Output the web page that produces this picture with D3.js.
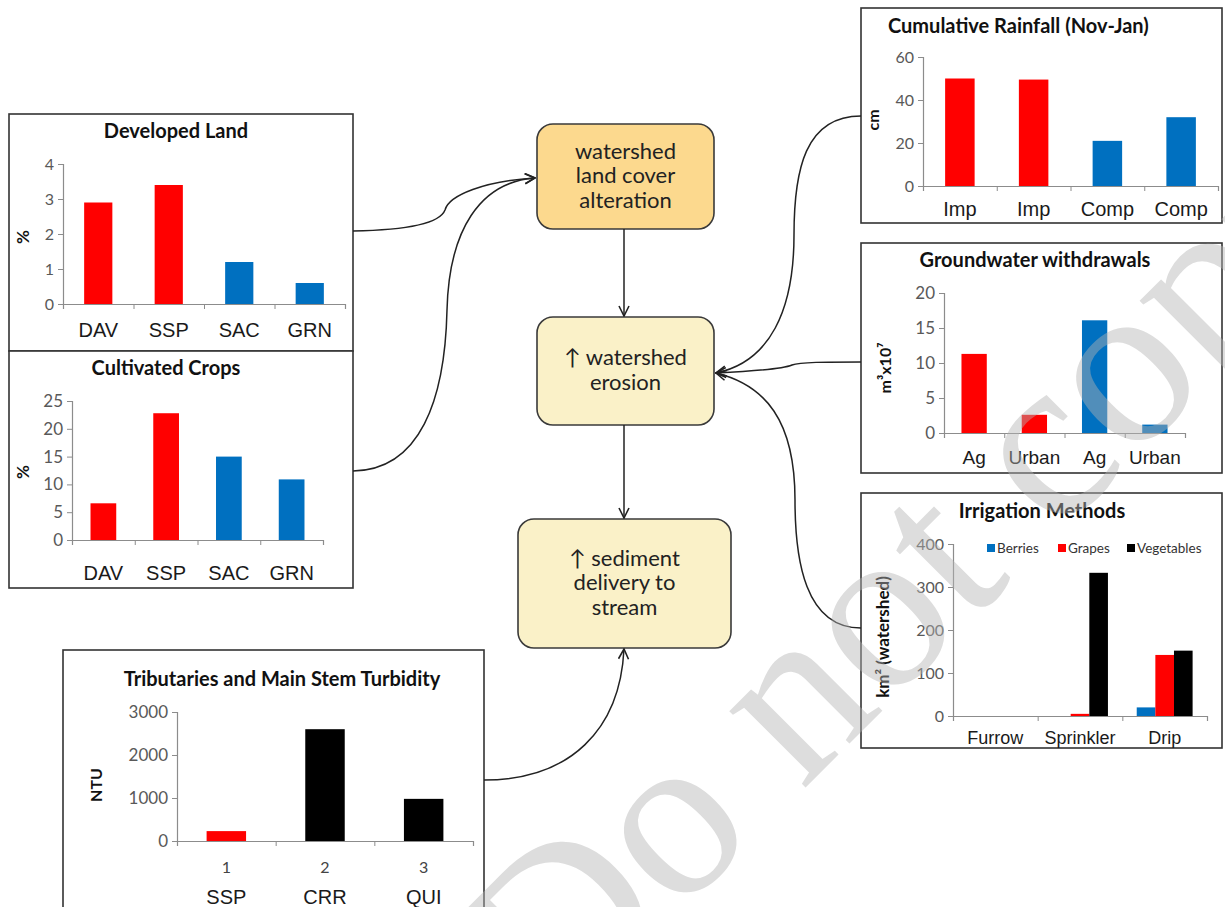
<!DOCTYPE html>
<html><head><meta charset="utf-8">
<script src="https://cdn.jsdelivr.net/npm/d3@7"></script>
<style>
body{margin:0;background:#fff;}
svg{display:block;}
</style></head>
<body>
<svg id="c" width="1225" height="907"></svg>
<script>
// ---------- DATA ----------
const devCats = ["DAV","SSP","SAC","GRN"];
const devVals = [2.9, 3.4, 1.2, 0.6];
const devTicks = [0,1,2,3,4];

const cropCats = ["DAV","SSP","SAC","GRN"];
const cropVals = [6.6, 22.8, 15.0, 10.9];
const cropTicks = [0,5,10,15,20,25];

const rainCats = ["Imp","Imp","Comp","Comp"];
const rainVals = [50, 49.5, 21, 32];
const rainTicks = [0,20,40,60];

const gwCats = ["Ag","Urban","Ag","Urban"];
const gwVals = [11.3, 2.6, 16.1, 1.2];
const gwTicks = [0,5,10,15,20];

const irrCats = ["Furrow","Sprinkler","Drip"];
const irrSeries = ["Berries","Grapes","Vegetables"];
const irrBerries = [0, 0, 20];
const irrGrapes = [0, 5, 142];
const irrVegetables = [0, 333, 152];
const irrTicks = [0,100,200,300,400];

const turbCats = ["1","2","3"];
const turbSites = ["SSP","CRR","QUI"];
const turbVals = [230, 2600, 980];
const turbTicks = [0,1000,2000,3000];

const region4 = ["imp","imp","comp","comp"];   // impaired (red) vs comparison (blue)
const turbGroup = ["imp","main","main"];

const boxTexts = [
  ["watershed","land cover","alteration"],
  ["\u2191 watershed","erosion"],
  ["\u2191 sediment","delivery to","stream"]
];

// ---------- STYLE ----------
const RED="#ff0000", BLUE="#0070c0", BLACK="#000000";
const groupColor = {imp:RED, comp:BLUE, main:BLACK};
const seriesColor = [BLUE, RED, BLACK];
const AXIS="#8c8c8c", TICKTXT="#595959";
const svg = d3.select("#c");
svg.append("rect").attr("width",1225).attr("height",907).attr("fill","#fff");

const defs = svg.append("defs");
defs.append("marker").attr("id","arr").attr("viewBox","0 0 12 12")
  .attr("refX",11).attr("refY",6).attr("markerWidth",12).attr("markerHeight",12)
  .attr("markerUnits","userSpaceOnUse").attr("orient","auto")
  .append("path").attr("d","M1,1 L11,6 L1,11").attr("fill","none")
  .attr("stroke","#222").attr("stroke-width",1.6);

function panel(o){
  const g = svg.append("g");
  g.append("rect").attr("x",o.box[0]).attr("y",o.box[1]).attr("width",o.box[2]).attr("height",o.box[3])
    .attr("fill","#fff").attr("stroke","#333").attr("stroke-width",1.6);
  g.append("text").attr("x",o.tx).attr("y",o.ty).attr("text-anchor",o.tanchor||"middle")
    .attr("dominant-baseline","central").attr("font-family","Lato, 'Open Sans', sans-serif")
    .attr("font-weight","bold").attr("font-size",o.tsize||20).attr("fill","#111").text(o.title);
  const y = d3.scaleLinear().domain([0,o.max]).range([o.y0,o.y1]);
  const n = o.cats.length;
  const xb = d3.scaleBand().domain(d3.range(n)).range([o.x0,o.x1]).paddingInner(o.pad).paddingOuter(o.pad/2);
  const xl = d3.scaleLinear().domain([0,n]).range([o.x0,o.x1]);
  // y axis
  const ya = g.append("g").attr("transform",`translate(${o.x0},0)`)
    .call(d3.axisLeft(y).tickValues(o.ticks).tickFormat(d3.format("d")).tickSize(5).tickPadding(4));
  ya.select(".domain").attr("stroke",AXIS).attr("stroke-width",1.2);
  ya.selectAll(".tick line").attr("stroke",AXIS);
  ya.selectAll(".tick text").attr("font-family","Lato, sans-serif").attr("font-size",o.ysize||16).attr("fill",TICKTXT);
  // x axis (category boundaries)
  const xa = g.append("g").attr("transform",`translate(0,${o.y0})`)
    .call(d3.axisBottom(xl).tickValues(d3.range(n+1)).tickSize(5).tickFormat(""));
  xa.select(".domain").attr("stroke",AXIS).attr("stroke-width",1.2);
  xa.selectAll(".tick line").attr("stroke",AXIS);
  // bars
  if(o.series){
    const xs = d3.scaleBand().domain(d3.range(o.series.length)).range([0,xb.bandwidth()]);
    o.series.forEach((vals,si)=>{
      g.selectAll(null).data(vals).enter().append("rect")
        .attr("x",(d,i)=>xb(i)+xs(si)).attr("width",xs.bandwidth())
        .attr("y",d=>y(d)).attr("height",d=>y(0)-y(d)).attr("fill",seriesColor[si]);
    });
  } else {
    g.selectAll(null).data(o.vals).enter().append("rect")
      .attr("x",(d,i)=>xb(i)).attr("width",xb.bandwidth())
      .attr("y",d=>y(d)).attr("height",d=>y(0)-y(d)).attr("fill",(d,i)=>groupColor[o.groups[i]]);
  }
  // category labels
  const xc = g.append("g").attr("transform",`translate(0,${o.catY})`)
    .call(d3.axisBottom(xb).tickSize(0).tickFormat(i=>o.cats[i]));
  xc.select(".domain").remove();
  xc.selectAll(".tick text").attr("font-family",o.catFont||"'Liberation Sans', Arial, sans-serif")
    .attr("font-size",o.catSize||20).attr("fill",o.catColor||"#1a1a1a").attr("dy","0");
  if(o.cats2){
    const xc2 = g.append("g").attr("transform",`translate(0,${o.catY2})`)
      .call(d3.axisBottom(xb).tickSize(0).tickFormat(i=>o.cats2[i]));
    xc2.select(".domain").remove();
    xc2.selectAll(".tick text").attr("font-family","'Liberation Sans', Arial, sans-serif")
      .attr("font-size",20).attr("fill","#1a1a1a").attr("dy","0");
  }
  // y label
  g.append("text").attr("transform",`translate(${o.ylx},${o.yly}) rotate(-90)`)
    .attr("text-anchor","middle").attr("dominant-baseline","central")
    .attr("font-family","Lato, sans-serif").attr("font-weight","bold").attr("font-size",o.ylsize||16)
    .attr("fill","#111").text(o.ylabel);
  return {g,xb,y};
}

// Developed Land
panel({box:[9,114,344,237], title:"Developed Land", tx:176, ty:130,
  x0:63, x1:345, y0:304, y1:164, max:4, ticks:devTicks, cats:devCats, vals:devVals, groups:region4,
  pad:0.6, catY:334, ysize:16, ylabel:"%", ylx:22, yly:237, ylsize:17});
// Cultivated Crops
panel({box:[9,351,344,237], title:"Cultivated Crops", tx:166, ty:367,
  x0:72, x1:323, y0:540, y1:401, max:25, ticks:cropTicks, cats:cropCats, vals:cropVals, groups:region4,
  pad:0.59, catY:577, ysize:17, ylabel:"%", ylx:22, yly:472, ylsize:17});
// Cumulative Rainfall
panel({box:[861,8,361,215], title:"Cumulative Rainfall (Nov-Jan)", tx:888, ty:25, tanchor:"start",
  x0:923, x1:1218, y0:186, y1:57, max:60, ticks:rainTicks, cats:rainCats, vals:rainVals, groups:region4,
  pad:0.6, catY:213, ysize:16, ylabel:"cm", ylx:872, yly:120});
// Groundwater withdrawals
panel({box:[861,243,361,230], title:"Groundwater withdrawals", tx:1035, ty:259,
  x0:944, x1:1185, y0:433, y1:293, max:20, ticks:gwTicks, cats:gwCats, vals:gwVals, groups:region4,
  pad:0.58, catY:461, catSize:19, ysize:17, ylabel:"m\u00b3x10\u2077", ylx:884, yly:368});
// Irrigation Methods
const irr = panel({box:[861,493,361,255], title:"Irrigation Methods", tx:1042, ty:510,
  x0:953, x1:1207, y0:716, y1:544, max:400, ticks:irrTicks, cats:irrCats,
  series:[irrBerries, irrGrapes, irrVegetables], pad:0.34, catY:741, catSize:18, ysize:16,
  ylabel:"km\u00b2 (watershed)", ylx:882, yly:637, ylsize:17});
// legend
const legX = [987, 1058, 1127];
irrSeries.forEach((s,i)=>{
  irr.g.append("rect").attr("x",legX[i]).attr("y",544).attr("width",8).attr("height",8).attr("fill",seriesColor[i]);
  irr.g.append("text").attr("x",legX[i]+10).attr("y",548).attr("dominant-baseline","central")
    .attr("font-family","Lato, sans-serif").attr("font-size",13.5).attr("fill","#333").text(s);
});
// Turbidity
panel({box:[63,650,421,270], title:"Tributaries and Main Stem Turbidity", tx:282, ty:678,
  x0:177, x1:473, y0:841, y1:712, max:3000, ticks:turbTicks, cats:turbCats, vals:turbVals, groups:turbGroup,
  pad:0.6, catY:870, catSize:16, catFont:"Lato, sans-serif", catColor:"#444", cats2:turbSites, catY2:901,
  ysize:17, ylabel:"NTU", ylx:95, yly:785});

// ---------- CENTRAL FLOW BOXES ----------
const boxes = [
  {x:537,y:124,w:177,h:105,fill:"#fcd98e"},
  {x:537,y:317,w:177,h:108,fill:"#faf1c8"},
  {x:518,y:519,w:213,h:129,fill:"#faf1c8"}
];
boxes.forEach((b,i)=>{
  svg.append("rect").attr("x",b.x).attr("y",b.y).attr("width",b.w).attr("height",b.h)
    .attr("rx",16).attr("fill",b.fill).attr("stroke","#3a3a3a").attr("stroke-width",1.6);
  const lines = boxTexts[i];
  const cy = b.y + b.h/2 - 2;
  lines.forEach((t,j)=>{
    svg.append("text").attr("x",b.x+b.w/2).attr("y",cy + (j-(lines.length-1)/2)*24.5)
      .attr("text-anchor","middle").attr("dominant-baseline","central")
      .attr("font-family","Lato, 'Open Sans', sans-serif").attr("font-size",22).attr("fill","#222").text(t);
  });
});

// ---------- CONNECTORS ----------
const conn = [
  "M624,229 L624,316",
  "M624,425 L624,518",
  "M353,231 C410,230 440,223 445,210 C449,195 485,181 535,178",
  "M353,471 C420,470 445,400 447,310 C449,230 480,182 535,178",
  "M861,116 C805,116 794,170 794,235 C794,310 770,362 716,373",
  "M861,362 C825,362 800,362 792,365 C785,368 760,371 716,373",
  "M861,628 C805,628 795,560 795,500 C795,420 765,385 716,373",
  "M484,780 C570,780 620,730 624,649"
];
conn.forEach(d=>{
  svg.append("path").attr("d",d).attr("fill","none").attr("stroke","#222")
    .attr("stroke-width",1.5).attr("marker-end","url(#arr)");
});

// ---------- WATERMARK ----------
svg.append("text").attr("transform","translate(557,1036) rotate(-45)")
  .attr("font-family","'Liberation Serif', 'DejaVu Serif', serif").attr("font-size",235)
  .attr("fill","#b4b4b4").attr("opacity",0.45).text("Do not copy");
</script>
</body></html>
